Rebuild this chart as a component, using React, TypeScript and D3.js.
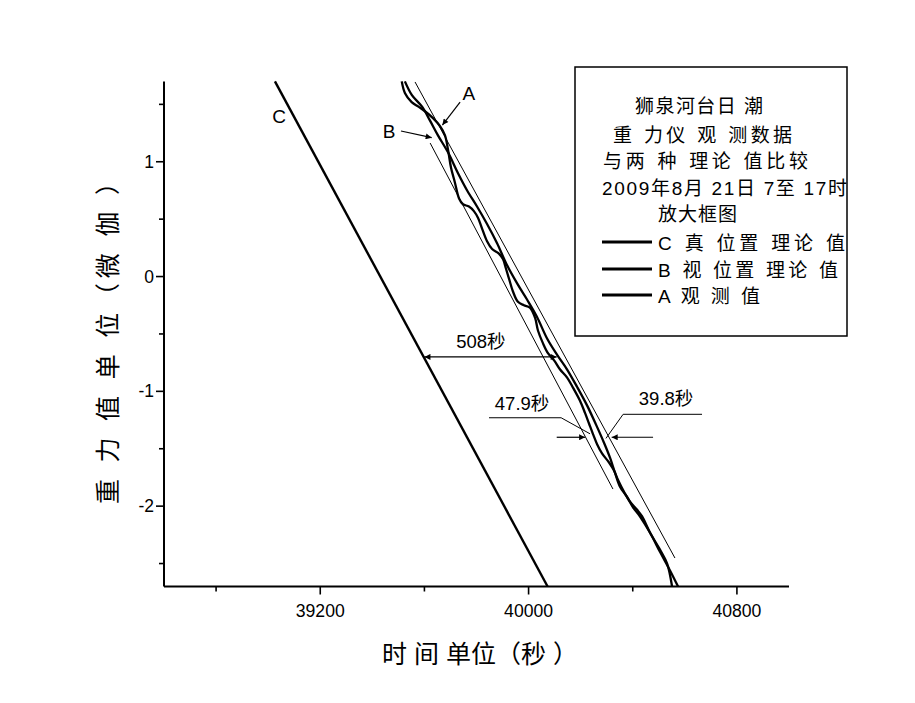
import React from "react";
import * as d3 from "d3";

// ---------- data ----------
const xMajorTicks = [39200, 40000, 40800];
const xMinorTicks = [38800, 39600, 40400];
const yMajorTicks = [-2, -1, 0, 1];
const yMinorTicks = [-2.5, -1.5, -0.5, 0.5, 1.5];

// C: true-position theory (straight)
const cTime = [39026, 40073];
const cGrav = [1.7, -2.7];

// A: observed (wavy)
const aTime = [39513, 39525, 39551, 39577, 39602, 39633, 39660, 39679, 39691, 39702, 39717, 39733, 39748, 39771, 39790, 39806, 39821, 39840, 39860, 39886, 39902, 39913, 39925, 39940, 39959, 39982, 40005, 40025, 40036, 40055, 40075, 40098, 40121, 40148, 40171, 40197, 40217, 40232, 40247, 40263, 40282, 40309, 40328, 40343, 40370, 40389, 40416, 40436, 40466, 40505, 40532, 40551];
const aGrav = [1.7, 1.6, 1.52, 1.48, 1.44, 1.38, 1.31, 1.23, 1.1, 0.95, 0.82, 0.68, 0.63, 0.61, 0.57, 0.51, 0.42, 0.31, 0.24, 0.2, 0.15, 0.07, -0.02, -0.13, -0.22, -0.25, -0.27, -0.36, -0.47, -0.58, -0.67, -0.73, -0.81, -0.88, -0.97, -1.08, -1.19, -1.28, -1.37, -1.46, -1.54, -1.62, -1.69, -1.77, -1.89, -1.96, -2.03, -2.09, -2.23, -2.38, -2.5, -2.7];

// B: apparent-position theory
const bTime = [39525, 39552, 39591, 39621, 39652, 39691, 39729, 39764, 39802, 39840, 39879, 39917, 39956, 39994, 40032, 40071, 40109, 40148, 40186, 40224, 40259, 40290, 40313, 40332, 40351, 40378, 40401, 40428, 40466, 40505, 40543, 40574];
const bGrav = [1.7, 1.58, 1.48, 1.36, 1.23, 1.08, 0.9, 0.75, 0.61, 0.46, 0.29, 0.1, -0.06, -0.2, -0.35, -0.54, -0.68, -0.81, -0.96, -1.12, -1.29, -1.45, -1.58, -1.71, -1.83, -1.92, -2.01, -2.09, -2.23, -2.4, -2.56, -2.7];

// thin bracketing lines
const envRightTime = [39564, 40562];
const envRightGrav = [1.695, -2.452];
const envLeftTime = [39622, 40324];
const envLeftGrav = [1.163, -1.851];

// annotations (data coordinates)
const gap508Time = [39600, 40108];
const gap508Grav = -0.7;
const arrow479Time = [40108, 40217];
const arrow398Time = [40478, 40319];
const arrowsGrav = -1.4;
const leader479Time = [39848, 40125, 40236];
const leader479Grav = [-1.23, -1.23, -1.37];
const leader398Time = [40666, 40363, 40297];
const leader398Grav = [-1.2, -1.2, -1.41];
const labelArrowATime = [39737, 39669];
const labelArrowAGrav = [1.52, 1.32];
const labelArrowBTime = [39510, 39628];
const labelArrowBGrav = [1.268, 1.21];

const annoTexts = ["508秒", "47.9秒", "39.8秒"];
const annoTime = [39817, 39975, 40528];
const annoGrav = [-0.62, -1.16, -1.12];
const seriesLabels = ["A", "B", "C"];
const seriesLabelTime = [39771, 39464, 39042];
const seriesLabelGrav = [1.54, 1.21, 1.34];

const titleLines = ["狮泉河台日 潮", "重 力仪 观 测数据", "与两 种 理论 值比较", "2009年8月 21日 7至 17时", "放大框图"];
const legendLabels = ["C 真  位置  理论 值", "B 视 位置  理论 值", "A 观 测 值"];
const xTitle = "时 间 单位（秒 ）";
const yTitle = "重 力 值 单 位（微 伽 ）";

// ---------- layout ----------
const W = 915, H = 703;
const X0 = 164, X1 = 789, Y0 = 586.5, Y1 = 81.4;
const FONT = "'Liberation Sans', Arial, 'Noto Sans CJK SC', sans-serif";

export default function App() {
  const x = d3.scaleLinear().domain([38600, 41000]).range([X0, X1]);
  const y = d3.scaleLinear().domain([-2.7, 1.7]).range([Y0, Y1]);
  const line = d3.line<[number, number]>().x(d => x(d[0])).y(d => y(d[1]));
  const zip = (t: number[], g: number[]) => t.map((v, i) => [v, g[i]] as [number, number]);
  const curve = d3.line<[number, number]>().x(d => x(d[0])).y(d => y(d[1])).curve(d3.curveCatmullRom.alpha(0.5));

  const titleBase = [113, 142, 168, 195, 221];
  const titleX = [635, 613, 603, 602, 658];
  const titleLen = [128, 179, 205, 245, 79];
  const legY = [242, 269, 295];
  const legLen = [187, 180, 102];

  return (
    <div style={{ position: "fixed", left: 0, top: 0 }}>
      <svg width={W} height={H} style={{ display: "block", background: "#fff" }}>
        <defs>
          <marker id="ah" viewBox="0 0 10 10" refX="10" refY="5" markerWidth="9" markerHeight="6" markerUnits="userSpaceOnUse" orient="auto-start-reverse">
            <path d="M0,0 L10,5 L0,10 z" fill="#000" />
          </marker>
        </defs>
        <rect width={W} height={H} fill="#fff" />

        {/* axes */}
        <line x1={X0} y1={Y1} x2={X0} y2={Y0} stroke="#000" strokeWidth={2} />
        <line x1={X0} y1={Y0} x2={X1} y2={Y0} stroke="#000" strokeWidth={2} />
        {xMajorTicks.map(t => (
          <g key={"xm" + t}>
            <line x1={x(t)} x2={x(t)} y1={Y0} y2={Y0 + 8} stroke="#000" strokeWidth={1.6} />
            <text x={x(t)} y={Y0 + 30} textAnchor="middle" fontFamily={FONT} fontSize={17.5} textLength={49} lengthAdjust="spacingAndGlyphs">{t}</text>
          </g>
        ))}
        {xMinorTicks.map(t => (
          <line key={"xn" + t} x1={x(t)} x2={x(t)} y1={Y0} y2={Y0 + 5} stroke="#000" strokeWidth={1.6} />
        ))}
        {yMajorTicks.map(t => (
          <g key={"ym" + t}>
            <line x1={X0 - 8} x2={X0} y1={y(t)} y2={y(t)} stroke="#000" strokeWidth={1.6} />
            <text x={X0 - 10} y={y(t) + 6} textAnchor="end" fontFamily={FONT} fontSize={17.5}>{t < 0 ? "-" + Math.abs(t) : String(t)}</text>
          </g>
        ))}
        {yMinorTicks.map(t => (
          <line key={"yn" + t} x1={X0 - 5} x2={X0} y1={y(t)} y2={y(t)} stroke="#000" strokeWidth={1.6} />
        ))}

        {/* axis titles */}
        <text x={382} y={663} fontFamily={FONT} fontSize={25} textLength={196} lengthAdjust="spacing">{xTitle}</text>
        <text transform="translate(117,504) rotate(-90)" fontFamily={FONT} fontSize={25} textLength={334} lengthAdjust="spacing">{yTitle}</text>

        {/* series */}
        <path d={line(zip(cTime, cGrav)) || ""} fill="none" stroke="#000" strokeWidth={2.4} />
        <path d={line(zip(envRightTime, envRightGrav)) || ""} fill="none" stroke="#000" strokeWidth={1} />
        <path d={line(zip(envLeftTime, envLeftGrav)) || ""} fill="none" stroke="#000" strokeWidth={1} />
        <path d={curve(zip(bTime, bGrav)) || ""} fill="none" stroke="#000" strokeWidth={2.3} />
        <path d={curve(zip(aTime, aGrav)) || ""} fill="none" stroke="#000" strokeWidth={2.3} />

        {/* annotations */}
        <line x1={x(gap508Time[1])} x2={x(gap508Time[0])} y1={y(gap508Grav)} y2={y(gap508Grav)} stroke="#000" strokeWidth={1.2} markerStart="url(#ah)" markerEnd="url(#ah)" />
        <line x1={x(arrow479Time[0])} x2={x(arrow479Time[1])} y1={y(arrowsGrav)} y2={y(arrowsGrav)} stroke="#000" strokeWidth={1.2} markerEnd="url(#ah)" />
        <line x1={x(arrow398Time[0])} x2={x(arrow398Time[1])} y1={y(arrowsGrav)} y2={y(arrowsGrav)} stroke="#000" strokeWidth={1.2} markerEnd="url(#ah)" />
        <path d={line(zip(leader479Time, leader479Grav)) || ""} fill="none" stroke="#000" strokeWidth={1} />
        <path d={line(zip(leader398Time, leader398Grav)) || ""} fill="none" stroke="#000" strokeWidth={1} />
        <path d={line(zip(labelArrowATime, labelArrowAGrav)) || ""} fill="none" stroke="#000" strokeWidth={1.2} markerEnd="url(#ah)" />
        <path d={line(zip(labelArrowBTime, labelArrowBGrav)) || ""} fill="none" stroke="#000" strokeWidth={1.2} markerEnd="url(#ah)" />
        {annoTexts.map((s, i) => (
          <text key={s} x={x(annoTime[i])} y={y(annoGrav[i])} textAnchor="middle" fontFamily={FONT} fontSize={18.5}>{s}</text>
        ))}
        {seriesLabels.map((s, i) => (
          <text key={s} x={x(seriesLabelTime[i])} y={y(seriesLabelGrav[i])} textAnchor="middle" fontFamily={FONT} fontSize={19}>{s}</text>
        ))}

        {/* legend box */}
        <rect x={575} y={67} width={272} height={269} fill="#fff" stroke="#000" strokeWidth={1.5} />
        {titleLines.map((s, i) => (
          <text key={s} x={titleX[i]} y={titleBase[i]} fontFamily={FONT} fontSize={19} textLength={titleLen[i]} lengthAdjust="spacing">{s}</text>
        ))}
        {legendLabels.map((s, i) => (
          <g key={s}>
            <line x1={602} x2={652} y1={legY[i]} y2={legY[i]} stroke="#000" strokeWidth={3} />
            <text x={658} y={legY[i] + 8} fontFamily={FONT} fontSize={19} textLength={legLen[i]} lengthAdjust="spacing">{s}</text>
          </g>
        ))}
      </svg>
    </div>
  );
}
